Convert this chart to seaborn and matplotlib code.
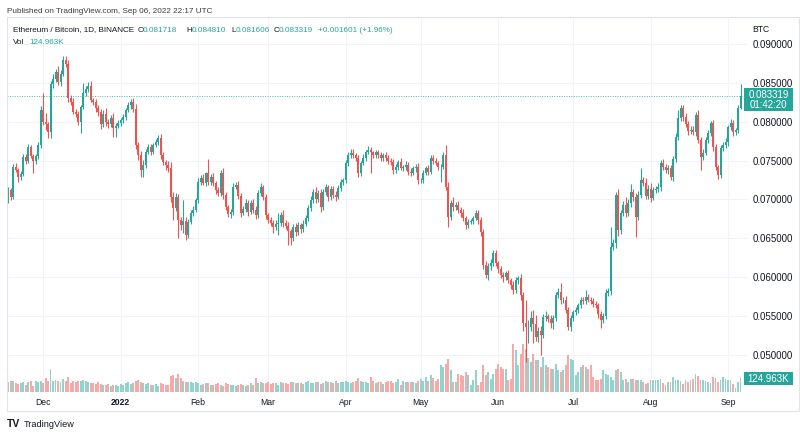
import numpy as np
import pandas as pd
import seaborn as sns
import matplotlib
matplotlib.use("Agg")
import matplotlib.pyplot as plt
from matplotlib.patches import Rectangle

# ETH/BTC daily candles, 17 Nov 2021 .. 6 Sep 2022 (BINANCE, 1D)
# prices are in units of 1e-4 BTC
first_open = 702
closes = [
    712, 703, 742, 738, 729, 733, 755, 750, 767, 756,
    749, 756, 770, 815, 800, 797, 787, 848, 855, 864,
    851, 862, 880, 874, 830, 826, 813, 810, 800, 819,
    837, 842, 846, 828, 825, 818, 812, 797, 810, 800,
    797, 805, 792, 795, 798, 802, 806, 815, 821, 826,
    817, 770, 757, 738, 745, 761, 767, 761, 770, 774,
    779, 757, 748, 744, 740, 703, 689, 703, 674, 667,
    672, 654, 671, 683, 687, 699, 722, 727, 721, 734,
    722, 729, 721, 712, 708, 734, 706, 690, 681, 684,
    716, 718, 705, 683, 688, 696, 684, 695, 686, 680,
    708, 716, 703, 680, 674, 670, 665, 668, 670, 680,
    670, 666, 659, 650, 665, 658, 667, 662, 669, 676,
    689, 699, 710, 701, 708, 690, 710, 716, 703, 713,
    706, 703, 715, 722, 725, 747, 757, 760, 757, 753,
    734, 747, 754, 761, 764, 761, 757, 761, 757, 753,
    757, 754, 750, 748, 738, 742, 748, 741, 742, 745,
    736, 734, 740, 742, 725, 725, 734, 740, 736, 753,
    750, 747, 742, 742, 757, 716, 678, 695, 690, 693,
    686, 683, 676, 667, 671, 672, 676, 683, 673, 658,
    616, 603, 614, 618, 631, 618, 610, 603, 600, 605,
    596, 590, 584, 596, 599, 577, 541, 536, 536, 548,
    540, 523, 531, 526, 549, 550, 546, 541, 548, 577,
    581, 571, 571, 558, 536, 547, 555, 558, 564, 571,
    570, 575, 571, 570, 566, 564, 553, 545, 550, 580,
    582, 639, 644, 706, 661, 683, 693, 683, 695, 710,
    703, 678, 706, 725, 721, 705, 714, 702, 712, 714,
    716, 747, 742, 738, 740, 729, 752, 781, 805, 818,
    806, 797, 788, 790, 787, 809, 777, 755, 760, 777,
    786, 798, 767, 742, 731, 766, 770, 774, 793, 798,
    787, 789, 817.18, 833.19,
]
# wick lengths above / below the body (same units)
upper_wick = [
    4, 3, 4, 5, 3, 4, 3, 4, 4, 3,
    3, 3, 4, 5, 22, 11, 3, 4, 6, 4,
    8, 4, 5, 4, 6, 4, 4, 3, 4, 3,
    13, 4, 5, 6, 3, 4, 3, 4, 5, 8,
    3, 4, 6, 3, 4, 3, 4, 3, 4, 3,
    5, 6, 4, 5, 6, 4, 5, 4, 3, 4,
    4, 5, 4, 3, 6, 8, 6, 5, 4, 4,
    27, 6, 4, 3, 4, 3, 5, 4, 6, 2,
    18, 4, 5, 3, 4, 4, 6, 4, 3, 4,
    5, 4, 6, 3, 4, 4, 3, 4, 5, 6,
    4, 5, 3, 4, 3, 4, 4, 5, 13, 4,
    6, 4, 5, 3, 4, 5, 4, 3, 4, 4,
    4, 5, 4, 6, 4, 5, 4, 4, 3, 4,
    4, 5, 3, 4, 3, 4, 4, 5, 5, 3,
    4, 3, 4, 3, 5, 3, 2, 3, 3, 4,
    3, 4, 3, 3, 4, 4, 3, 5, 3, 4,
    3, 4, 3, 4, 5, 3, 4, 3, 4, 4,
    4, 3, 3, 4, 4, 13, 6, 4, 8, 4,
    5, 4, 5, 3, 4, 3, 3, 4, 3, 4,
    4, 5, 4, 6, 4, 4, 3, 5, 4, 3,
    4, 3, 5, 4, 3, 5, 4, 30, 9, 9,
    10, 12, 5, 6, 4, 6, 3, 5, 4, 4,
    5, 12, 4, 5, 4, 4, 3, 4, 3, 4,
    4, 8, 3, 4, 3, 4, 3, 4, 4, 5,
    4, 26, 5, 4, 8, 4, 5, 10, 5, 10,
    4, 5, 5, 15, 4, 6, 4, 7, 4, 3,
    5, 4, 5, 4, 4, 5, 4, 5, 10, 3,
    4, 5, 4, 5, 4, 4, 6, 4, 5, 4,
    4, 3, 4, 4, 3, 4, 4, 5, 3, 5,
    4, 3, 4, 14.91,
]
lower_wick = [
    7, 4, 3, 3, 7, 4, 3, 4, 3, 3,
    15, 3, 4, 4, 4, 8, 8, 8, 4, 4,
    4, 5, 3, 4, 5, 4, 3, 4, 4, 14,
    3, 4, 4, 3, 4, 5, 4, 6, 4, 5,
    5, 4, 12, 12, 3, 4, 3, 4, 3, 4,
    4, 5, 6, 9, 9, 4, 3, 4, 3, 3,
    4, 5, 4, 6, 4, 6, 15, 4, 24, 6,
    10, 6, 4, 3, 4, 3, 4, 4, 3, 4,
    4, 3, 4, 5, 4, 4, 5, 4, 4, 5,
    4, 3, 4, 5, 3, 4, 5, 3, 4, 5,
    4, 3, 4, 5, 4, 4, 8, 4, 14, 4,
    5, 4, 18, 9, 4, 5, 4, 5, 4, 3,
    4, 4, 4, 5, 4, 6, 4, 4, 5, 4,
    4, 5, 3, 4, 4, 4, 4, 3, 4, 4,
    5, 4, 3, 4, 3, 27, 4, 3, 4, 4,
    3, 4, 4, 3, 5, 4, 4, 3, 4, 4,
    4, 4, 3, 4, 5, 4, 4, 3, 4, 3,
    4, 3, 4, 19, 3, 4, 13, 4, 5, 4,
    4, 5, 4, 5, 4, 3, 4, 3, 4, 5,
    5, 4, 6, 5, 4, 4, 5, 4, 6, 4,
    4, 5, 6, 4, 5, 6, 10, 45, 20, 5,
    25, 5, 6, 26, 4, 5, 4, 6, 8, 4,
    4, 5, 4, 4, 4, 5, 3, 4, 4, 3,
    4, 4, 3, 4, 4, 4, 5, 10, 4, 4,
    4, 5, 4, 6, 8, 5, 4, 5, 4, 5,
    5, 26, 5, 4, 4, 5, 4, 5, 3, 4,
    4, 5, 4, 4, 5, 4, 5, 4, 4, 4,
    5, 4, 5, 4, 4, 5, 4, 17, 4, 3,
    4, 4, 4, 4, 5, 4, 3, 4, 5, 4,
    5, 4, 4, 1.12,
]
# daily volume, thousands of ETH
volume_k = [
    90, 95, 100, 80, 70, 75, 85, 65, 90, 100, 55, 100, 85, 95,
    75, 120, 95, 198, 100, 105, 95, 85, 110, 100, 130, 80, 95, 85, 100, 100, 105,
    100, 90, 80, 75, 70, 85, 70, 60, 65, 70, 55, 65, 60, 55, 70, 65, 75, 85, 70, 80,
    100, 105, 90, 80, 70, 75, 65, 60, 70, 55, 75, 70, 60, 65,
    142, 145, 120, 157, 120, 95, 90, 85, 88, 80, 90, 75,
    65, 70, 80, 75, 60, 65, 70, 75, 60, 55, 75, 70, 65, 60,
    55, 60, 70, 65, 50, 60, 75, 65, 120, 80, 90, 75, 80, 85,
    70, 80, 75, 65, 85, 80, 75, 70, 85, 90, 80, 75, 80,
    70, 85, 95, 80, 75, 90, 85, 70, 80, 95, 90, 85, 80, 100, 75, 90, 85, 95,
    90, 80, 85, 95, 120, 95, 85, 90, 80, 135, 95, 80, 85, 90, 70, 85, 95, 100, 75, 85, 110,
    60, 100, 90, 85, 90, 90, 75, 100, 115, 100, 130, 100, 145, 120, 95, 110,
    233, 220, 248, 292, 190, 87, 87, 160, 146, 140,
    175, 146, 58, 102, 190, 58, 87, 233, 146, 175,
    117, 160, 200, 248, 219, 204, 204, 102, 117, 423,
    364, 233, 335, 423, 380, 300, 262, 335, 277, 277,
    219, 306, 233, 219, 204, 204, 248, 190, 175, 190,
    233, 321, 292, 277, 146, 175, 219, 233, 219, 204,
    233, 131, 102, 108, 117, 190, 155, 146, 131, 102,
    190, 204, 175, 102, 117, 87, 117, 117, 102, 102,
    102, 87, 73, 78, 102, 108, 108, 108, 111, 78,
    58, 87, 87, 131, 102, 102, 96, 73, 102, 87,
    102, 111, 155, 137, 102, 108, 96, 87, 81, 131,
    125, 87, 102, 131, 117, 108, 102, 73, 38, 87,
    124.963,
]

month_pos = [14, 45, 76, 104, 135, 165, 196, 226, 257, 288]
month_labels = ["Dec", "2022", "Feb", "Mar", "Apr", "May", "Jun", "Jul", "Aug", "Sep"]
price_ticks = [0.050, 0.055, 0.060, 0.065, 0.070, 0.075, 0.080, 0.085, 0.090]
last_close = 0.083319
countdown = "01:42:20"
vol_label = "124.963K"

UP = "#26a69a"
DOWN = "#ef5350"
VOL_UP = "#92d3cd"
VOL_DOWN = "#f7a9a7"
TXT = "#131722"

sns.set_style("white")
plt.rcParams["font.family"] = ["Liberation Sans", "DejaVu Sans"]
FS_AX = 7.0     # price scale
FS_T = 6.2      # time scale
FS_H = 5.9      # legend line

close = np.array(closes, dtype=float) / 1e4
opn = np.r_[first_open / 1e4, close[:-1]]
high = np.maximum(opn, close) + np.array(upper_wick) / 1e4
low = np.minimum(opn, close) - np.array(lower_wick) / 1e4
n = len(close)
idx = np.arange(n)
up = close >= opn
cols = np.where(up, UP, DOWN)

W, H = 800, 436
fig = plt.figure(figsize=(W / 100, H / 100), dpi=100)
fig.patch.set_facecolor("white")


def fx(px):
    return px / W


def fy(py):
    return 1 - py / H


pos = [fx(7), fy(392), fx(748) - fx(7), fy(17) - fy(392)]
xlim = (-0.4, 296.0)
ylim = (0.045242, 0.09347)

# bottom layer: grid and axis labels
axp = fig.add_axes(pos)
axp.set_xlim(*xlim)
axp.set_ylim(*ylim)
axp.yaxis.tick_right()
axp.set_yticks(price_ticks, [f"{v:.6f}" for v in price_ticks])
axp.set_xticks(month_pos, month_labels)
axp.tick_params(length=0, labelcolor=TXT)
axp.tick_params(axis="y", pad=3, labelsize=FS_AX)
axp.tick_params(axis="x", pad=4, labelsize=FS_T)
axp.get_xticklabels()[1].set_fontweight("bold")
axp.grid(True, color="#f0f3fa", lw=0.8)
for s in axp.spines.values():
    s.set_visible(False)

# middle layer: volume
axv = fig.add_axes(pos, sharex=axp)
vol_df = pd.DataFrame({"day": idx, "vol": volume_k, "dir": np.where(up, "up", "down")})
sns.barplot(data=vol_df, x="day", y="vol", hue="dir",
            palette={"up": VOL_UP, "down": VOL_DOWN}, native_scale=True,
            width=0.8, dodge=False, legend=False, errorbar=None,
            saturation=1, linewidth=0, ax=axv)
axv.set_xlim(*xlim)
axv.set_ylim(0, 3280)
axv.axis("off")

# top layer: candles
axc = fig.add_axes(pos, sharex=axp)
axc.vlines(idx, low, high, colors=cols, linewidth=0.8)
body = np.maximum(np.abs(close - opn), 0.00002)
axc.bar(idx, body, bottom=np.minimum(opn, close), width=0.75, color=cols, linewidth=0)
axc.axhline(last_close, color=UP, lw=0.7, ls=(0, (1, 1.5)), alpha=0.8)
axc.set_xlim(*xlim)
axc.set_ylim(*ylim)
axc.axis("off")

# pane border
fig.patches.append(Rectangle((fx(7), fy(411)), fx(799) - fx(7), fy(17) - fy(411),
                             transform=fig.transFigure, fill=False,
                             edgecolor="#e0e3eb", lw=0.8))

# header
fig.text(fx(7), fy(11.5), "Published on TradingView.com, Sep 06, 2022 22:17 UTC",
         fontsize=5.9, color="#3c3c3c", va="center")
pieces = [
    (12.7, "Ethereum / Bitcoin, 1D, BINANCE", TXT),
    (138.0, "O", TXT), (143.0, "0.081718", UP),
    (186.5, "H", TXT), (191.5, "0.084810", UP),
    (231.0, "L", TXT), (235.5, "0.081606", UP),
    (274.0, "C", TXT), (279.0, "0.083319", UP),
    (318.3, "+0.001601 (+1.96%)", UP),
]
for x, s, c in pieces:
    fig.text(fx(x), fy(30), s, fontsize=FS_H, color=c, va="center")
fig.text(fx(12.7), fy(42.5), "Vol", fontsize=FS_H, color=TXT, va="center")
fig.text(fx(29.3), fy(42.5), vol_label, fontsize=FS_H, color=UP, va="center")
fig.text(fx(752), fy(29), "BTC", fontsize=FS_T, color=TXT, va="center")

# last price and volume tags on the price scale
fig.patches.append(Rectangle((fx(744), fy(111)), fx(49), fy(88) - fy(111),
                             transform=fig.transFigure, color=UP, lw=0))
fig.text(fx(768.5), fy(94.5), f"{last_close:.6f}", fontsize=FS_AX, color="white",
         ha="center", va="center")
fig.text(fx(768.5), fy(104.5), countdown, fontsize=FS_AX, color="white",
         ha="center", va="center")
fig.patches.append(Rectangle((fx(744), fy(385)), fx(49), fy(372) - fy(385),
                             transform=fig.transFigure, color=UP, lw=0))
fig.text(fx(768.5), fy(378.5), vol_label, fontsize=FS_AX, color="white",
         ha="center", va="center")

# footer
fig.text(fx(7), fy(424), "TV", fontsize=7.5, color=TXT, va="center", fontweight="heavy")
fig.text(fx(23.5), fy(424), "TradingView", fontsize=6.6, color=TXT, va="center")

fig.savefig("out.png", dpi=100)
